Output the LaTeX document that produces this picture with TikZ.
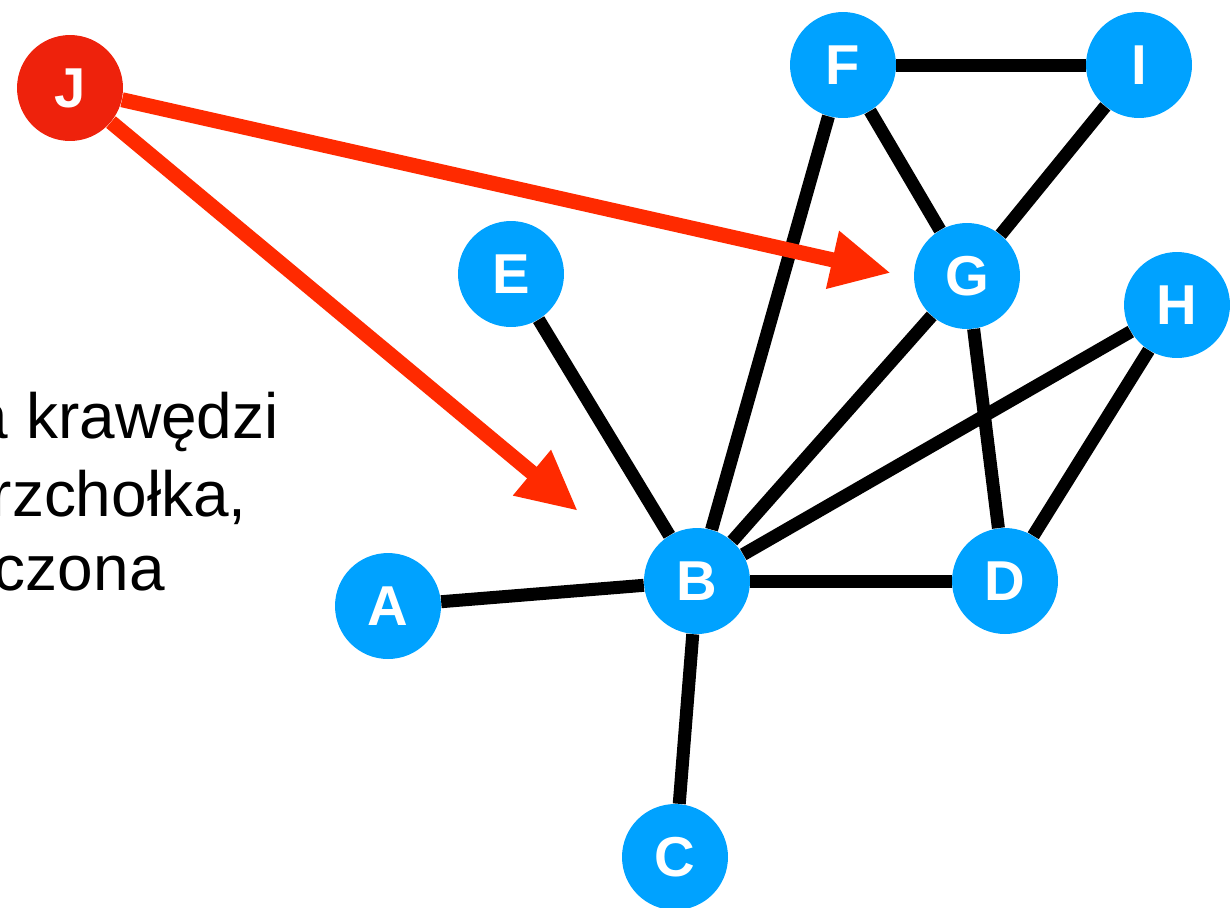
\documentclass[tikz,border=0pt]{standalone}
\usepackage{fontspec}
\setmainfont{Liberation Sans}
\usetikzlibrary{arrows.meta}
\definecolor{vblue}{HTML}{00A2FF}
\definecolor{vred}{HTML}{EE220C}
\definecolor{ared}{HTML}{FF2A00}
\begin{document}
\begin{tikzpicture}[x=0.02cm,y=-0.02cm,
  vertex/.style={circle,fill=vblue,minimum size=2.12cm,inner sep=0pt,
    text=white,font=\fontsize{32}{32}\selectfont\bfseries},
  edge/.style={line width=0.26cm,black},
  newedge/.style={line width=0.3cm,ared,-{Triangle[length=1.2cm,width=1.1cm]}},
  caption/.style={font=\fontsize{36.4}{40}\selectfont,anchor=base east,inner sep=0pt}]
\useasboundingbox (0,0) rectangle (1230,907);

% caption fragments
\node[caption] (t1) at (279,438) {a krawędzi};
\node[caption] (t2) at (247,516) {rzchołka,};
\node[caption] (t3) at (165,590) {czona};

% vertices
\node[vertex] (F) at (843,65) {F};
\node[vertex] (I) at (1139,65) {I};
\node[vertex] (E) at (511,274) {E};
\node[vertex] (G) at (967,276) {G};
\node[vertex] (H) at (1177,305) {H};
\node[vertex] (A) at (388,606) {A};
\node[vertex] (B) at (697,581) {B};
\node[vertex] (D) at (1005,581) {D};
\node[vertex] (C) at (675,857) {C};
\node[vertex,fill=vred] (J) at (70,88) {J};

% edges
\draw[edge] (A) -- (B);
\draw[edge] (B) -- (C);
\draw[edge] (B) -- (E);
\draw[edge] (B) -- (F);
\draw[edge] (B) -- (G);
\draw[edge] (B) -- (H);
\draw[edge] (B) -- (D);
\draw[edge] (F) -- (I);
\draw[edge] (F) -- (G);
\draw[edge] (I) -- (G);
\draw[edge] (G) -- (D);
\draw[edge] (H) -- (D);

% new edges from J
\coordinate (tipG) at (891,273);
\coordinate (tipB) at (578,511);
\draw[newedge] (J) -- (tipG);
\draw[newedge] (J) -- (tipB);
\end{tikzpicture}
\end{document}
